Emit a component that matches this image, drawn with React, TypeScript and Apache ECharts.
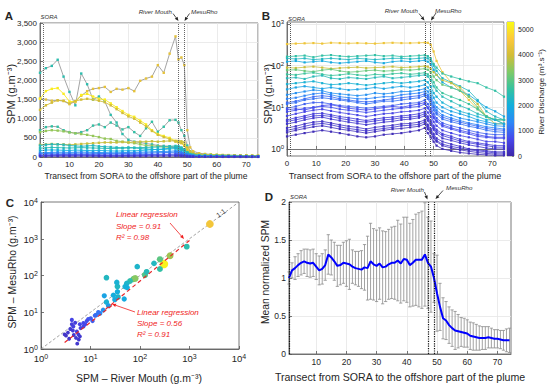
import React, { useEffect, useRef } from 'react';
import * as echarts from 'echarts';

// ---------- DATA ----------
// Panel A: transect positions and SPM profiles (g.m-3)
const XA = [0,2,4,6,8,10,12,14,16,18,20,22,24,26,28,30,32,34,36,38,40,42,44,46,47,48,49,50,51,52,54,56,58,60,62,64,66,68,70,72,74];
const A_LINES = [
  [1530,1500,1470,1480,1460,1380,1450,1600,1720,1780,1800,1830,1700,1780,1760,1800,1720,1990,2050,2100,2400,2200,2700,3150,2550,2600,2400,700,250,150,100,80,70,60,55,50,45,40,35,30,30],
  [2200,2320,2380,2540,2100,1700,1350,2180,1900,1500,1580,1450,1100,900,600,450,400,380,350,330,300,290,280,260,250,230,200,120,80,60,50,45,40,38,35,32,30,28,25,22,20],
  [700,780,800,790,700,650,620,650,700,820,850,780,900,820,720,780,650,550,750,920,660,790,960,970,900,700,550,300,150,100,70,60,55,50,45,42,40,38,35,32,30],
  [1520,1720,1780,1800,1650,1450,1450,1620,1650,1580,1520,1500,1400,1300,1200,1100,1050,950,850,700,600,550,500,420,400,380,300,200,120,90,70,60,55,50,45,42,40,38,35,32,30],
  [1230,1350,1420,1480,1470,1400,1460,1500,1520,1500,1470,1430,1350,1250,1150,1060,1000,900,800,680,580,520,470,400,380,360,290,180,110,80,65,55,50,46,42,40,37,35,32,30,28],
  [650,680,700,690,670,640,620,600,580,550,520,480,470,420,400,380,360,330,300,290,280,260,250,240,220,200,180,120,80,60,50,45,40,38,35,33,30,28,26,25,24],
  [320,330,340,330,330,320,330,340,350,360,370,380,380,380,390,380,390,400,400,410,400,410,420,420,420,410,380,250,150,100,80,65,55,50,45,42,40,38,35,33,30],
  [300,320,330,330,320,300,290,280,290,300,280,270,260,250,240,250,240,220,210,200,190,200,210,220,200,180,150,100,70,50,40,35,30,28,26,24,22,20,18,16,15],
  [170,180,185,180,175,170,180,175,170,165,170,165,160,155,160,165,160,170,180,190,200,210,230,250,240,220,180,110,70,50,40,35,30,28,25,23,21,20,19,18,17],
  [230,240,250,245,240,235,240,245,240,235,230,225,220,225,230,235,240,245,250,255,260,270,280,290,280,250,200,120,80,60,45,40,35,32,30,28,26,24,22,20,19],
  [110,115,120,125,125,120,125,130,125,120,118,115,110,110,115,120,120,125,130,135,140,145,150,160,150,130,100,70,45,35,28,24,20,18,16,15,14,13,12,11,10],
  [85,90,95,100,98,95,100,102,98,95,92,90,88,86,90,94,95,98,100,105,110,115,120,125,120,105,80,55,35,28,22,19,16,15,13,12,11,10,10,9,9],
  [55,58,62,65,66,64,66,68,65,62,60,58,56,55,57,60,60,62,64,66,68,70,72,78,75,65,50,35,25,20,16,14,12,11,10,9,8,8,7,7,6],
  [35,38,40,42,43,42,44,45,43,41,40,38,37,36,38,40,40,41,43,45,46,48,50,52,50,44,34,24,17,13,11,10,9,8,7,7,6,6,5,5,5],
  [18,20,22,23,24,23,24,25,24,22,21,20,19,19,20,21,21,22,23,24,25,26,27,28,27,23,18,13,10,8,7,6,5,5,4,4,4,3,3,3,3],
];
const A_Q = [4300,2500,2600,5100,4000,3500,3900,2300,2000,2400,1500,1200,900,600,300];

// Panel B: transect positions and SPM profiles (g.m-3), log scale
const XB = [0,3,6,9,12,15,18,21,24,27,30,33,36,39,42,45,47,48,49,50,51,53,56,59,62,65,68,71,74];
const B_LINES = [
  [330,340,345,350,340,355,350,345,350,345,340,350,355,350,350,355,360,355,320,220,130,70,40,25,15,9,6,5,5],
  [165,170,175,160,175,180,170,165,170,175,180,170,175,165,170,175,180,170,150,110,90,65,55,48,42,38,30,25,18],
  [150,145,150,140,145,150,145,140,150,145,140,145,150,150,145,150,155,150,130,100,75,50,40,32,25,15,8,6,5],
  [125,130,120,125,130,120,115,120,125,130,120,115,125,130,125,130,135,125,110,80,60,40,30,25,20,14,10,8,6],
  [90,88,92,95,90,85,88,90,92,88,90,92,95,90,92,95,98,95,85,70,60,45,38,30,18,12,6,4,4],
  [78,80,75,72,78,82,75,70,72,76,78,74,76,80,78,82,85,80,70,55,45,35,30,25,18,10,6,5,4],
  [62,60,65,68,62,58,60,64,60,58,62,60,64,66,62,65,68,62,55,40,30,22,18,15,12,9,6,5,5],
  [50,52,48,55,58,50,48,52,50,48,52,55,50,52,55,58,60,55,45,32,25,18,14,11,9,7,6,5,5],
  [36,38,40,42,38,35,36,38,36,34,36,38,40,38,40,42,45,40,32,22,18,13,10,8,7,6,5,5,4],
  [27,30,32,30,28,30,28,26,27,28,30,28,30,32,30,32,35,30,24,17,13,10,8,7,6,5,4.5,4,4],
  [20,22,24,26,25,22,21,20,19,20,22,21,22,24,24,26,28,24,19,13,10,8,6.5,5.5,5,4.5,4,3.6,3.5],
  [16,17,19,21,22,20,18,17,16,16,17,18,18,20,21,22,24,20,16,11,8.5,6.5,5.5,4.8,4.2,3.8,3.4,3.2,3],
  [13,14,16,18,19,18,16,15,14,13.5,14,15,16,17,18,19,21,18,14,10,7.5,5.8,5,4.4,3.9,3.5,3.1,2.9,2.8],
  [12,13,15,16,17,16,15,14,13,12,13,14,14,15,16,17,19,16,12,8.5,6.8,5.2,4.5,4,3.5,3.2,2.8,2.6,2.5],
  [9.5,10.5,12,13,13,12,11,10.5,10,9.5,10,10.5,11,12,12.5,13,15,12,9.5,7,5.5,4.2,3.6,3.2,2.8,2.5,2.3,2.2,2.2],
  [8.8,9.2,8.6,9.8,11,11.5,10.5,9.5,9,8.6,9.2,9.8,10.5,10,11,12,13,10,8,6,4.8,3.8,3.2,2.8,2.5,2.2,2,1.9,1.9],
  [7.8,8.5,9.5,10,10.5,10,9,8.5,8,7.5,8,8.5,9,9.5,10,10.5,12,9.5,7.5,5.5,4.5,3.5,3,2.6,2.3,2,1.9,1.8,1.8],
  [6.2,7,7.8,8.5,9,8.2,7.5,7,6.5,6,6.5,7,7.2,7.8,8,8.5,9.5,7.5,6,4.5,3.6,2.8,2.4,2.1,1.9,1.7,1.5,1.5,1.4],
  [5,5.6,6.2,7,7.2,6.6,6,5.6,5.2,4.8,5.2,5.6,5.8,6.2,6.5,7,7.8,6,4.8,3.6,2.9,2.3,2,1.7,1.5,1.4,1.3,1.2,1.2],
  [4.6,5,5.6,6.2,6.4,6,5.4,5,4.6,4.4,4.7,5,5.2,5.6,5.8,6.2,7,5.4,4.3,3.2,2.6,2.1,1.8,1.55,1.4,1.3,1.2,1.1,1.1],
  [4,4.4,5,5.5,5.8,5.2,4.8,4.4,4.1,3.8,4.1,4.4,4.6,5,5.2,5.6,6.2,4.8,3.8,2.9,2.3,1.8,1.6,1.4,1.25,1.15,1.05,1,1],
  [3.2,3.5,4,4.4,4.6,4.2,3.8,3.5,3.3,3,3.3,3.5,3.7,4,4.1,4.4,5,3.8,3,2.3,1.8,1.5,1.3,1.15,1,0.95,0.9,0.85,0.85],
  [2.8,3.1,3.5,3.9,4.1,3.8,3.4,3.1,2.9,2.7,2.9,3.1,3.3,3.6,3.7,3.9,4.5,3.4,2.7,2,1.6,1.3,1.15,1.05,0.95,0.9,0.85,0.8,0.8],
  [2.5,2.8,3.1,3.4,3.6,3.3,3,2.8,2.6,2.4,2.6,2.8,3,3.1,3.3,3.5,4,3,2.4,1.8,1.5,1.2,1.05,0.95,0.88,0.82,0.78,0.75,0.75],
  [2,2.2,2.4,2.6,2.8,2.6,2.4,2.2,2,1.9,2,2.2,2.3,2.4,2.6,2.8,3.2,2.4,1.9,1.5,1.2,1,0.9,0.82,0.78,0.74,0.72,0.7,0.7],
];
const B_Q = [4400,2600,2300,1900,3900,3100,2700,2400,2100,1800,1500,1300,1000,1100,900,700,750,600,480,450,380,300,350,220,150];

// Colour bar
const Q_MAX = 5300;
const CB_TICKS = [0,1000,2000,3000,4000,5000];

// Panel C: SPM at river mouth vs SPM at MesuRho (g.m-3), discharge (m3/s)
const C_RM = [2580,880,405,305,253,253,192,126,136,88,74,80,63,54,50,55,48,35,34,35,36,31,29,21,19,21,23,18,15.5,13,
  9,10.1,8.4,7.2,6.1,4.9,4.5,4.4,3.9,3.5,3.2,3,5.3,5.7,6.1,5.4,7.2,7.8,11,4.2,6.3,5.1,3.7,4.6,12.3,14.4,5.8,4.2];
const C_MR = [2520,610,345,205,150,275,214,103,126,174,80,83,71,61,50,47,23,50,65,36,26,22,29,87,28,19,15,11.5,9.3,8.4,
  6.5,6.8,5.8,5.1,4.7,5.2,4.1,3.2,3.5,2.8,2.3,2.5,3,2.5,2.2,1.4,4.1,4.7,5.8,4.7,3.7,2,1.9,2.4,8.1,10,1.8,6.2];
const C_Q = [4500,2500,3600,5200,2600,3000,2300,2900,2400,2200,3000,3400,2500,2200,2100,2000,1900,2300,2100,2000,2200,1900,2000,2300,1800,2100,1700,1500,1400,1300,
  800,850,700,650,600,500,550,450,400,350,300,320,500,450,400,380,600,650,900,500,550,420,350,400,1000,1100,380,600];
const ONE_TO_ONE = [[1,1],[10000,10000]];
const REG_LOWER = [[3,1.5],[30,17]];
const REG_UPPER = [[20,12],[1000,900]];

// Panel D: mean normalized SPM and standard deviation, positions 1..74
const D_MEAN = [1.00,1.10,1.13,1.17,1.20,1.22,1.20,1.19,1.20,1.15,1.10,1.12,1.17,1.31,1.27,1.22,1.16,1.17,1.20,1.19,
  1.18,1.15,1.13,1.12,1.11,1.14,1.13,1.22,1.18,1.16,1.19,1.14,1.15,1.18,1.20,1.20,1.23,1.19,1.25,1.24,
  1.17,1.20,1.24,1.24,1.24,1.31,1.20,1.15,1.00,0.80,0.62,0.47,0.44,0.38,0.34,0.31,0.30,0.29,0.28,0.27,
  0.24,0.23,0.22,0.21,0.21,0.21,0.22,0.21,0.20,0.20,0.19,0.18,0.18,0.18];
const D_STD = [0.08,0.10,0.15,0.15,0.16,0.16,0.18,0.18,0.18,0.17,0.19,0.20,0.20,0.26,0.23,0.25,0.27,0.26,0.27,0.30,
  0.33,0.22,0.22,0.23,0.25,0.30,0.42,0.50,0.47,0.47,0.47,0.48,0.46,0.46,0.47,0.48,0.53,0.52,0.55,0.56,
  0.55,0.57,0.60,0.62,0.64,0.68,0.60,0.60,0.32,0.50,0.31,0.27,0.25,0.24,0.24,0.25,0.22,0.19,0.19,0.18,
  0.18,0.18,0.17,0.16,0.15,0.15,0.14,0.13,0.12,0.12,0.12,0.13,0.15,0.16];

const MARK_X = [1, 47, 49];

// ---------- STYLE HELPERS ----------
const FONT = '"Liberation Sans", Arial, Helvetica, sans-serif';
const PARULA = ['#3e26a8','#4747eb','#2d87f7','#13aedd','#35c2a0','#7eca68','#d1bd38','#fcc83a','#f9fb15'];
const hex = (h: string) => [parseInt(h.slice(1,3),16), parseInt(h.slice(3,5),16), parseInt(h.slice(5,7),16)];
function parula(q: number) {
  const t = Math.max(0, Math.min(1, q / Q_MAX)) * (PARULA.length - 1);
  const i = Math.min(Math.floor(t), PARULA.length - 2);
  const f = t - i;
  const a = hex(PARULA[i]), b = hex(PARULA[i + 1]);
  const c = a.map((v, k) => Math.round(v + (b[k] - v) * f));
  return `rgb(${c[0]},${c[1]},${c[2]})`;
}
const AX = '#555';
const TXT = '#262626';
const axisLine = { show: true, lineStyle: { color: AX, width: 0.8 } };
const axisTick = { show: true, inside: true, length: 3, lineStyle: { color: AX, width: 0.8 } };
const splitLine = { show: true, lineStyle: { color: '#e6e6e6', width: 0.8 } };
const label = (fontSize: number, extra: any = {}) => ({ fontSize, color: TXT, fontFamily: FONT, margin: 3, ...extra });
const supRich = (size: number) => ({
  b: { fontSize: size, fontFamily: FONT, color: TXT, verticalAlign: 'bottom', lineHeight: size + 1, padding: [4, 0, 0, 0] },
  s: { fontSize: Math.round(size * 0.7), fontFamily: FONT, color: TXT, verticalAlign: 'top', lineHeight: Math.round(size * 0.8) },
});
const vlines = (color: string, width: number) => ({
  silent: true, symbol: ['none', 'none'], label: { show: false },
  lineStyle: { type: 'dotted', color, width },
  emphasis: { disabled: true },
  data: MARK_X.map((x) => ({ xAxis: x })),
});

function txt(text: string, x: number, y: number, o: any = {}) {
  return {
    type: 'text', x, y, rotation: o.rot || 0, z: 100,
    style: {
      text, fill: o.color || TXT, fontSize: o.size || 9, fontFamily: FONT,
      fontStyle: o.italic ? 'italic' : 'normal', fontWeight: o.bold ? 'bold' : 'normal',
      align: o.align || 'center', verticalAlign: 'middle',
      textAlign: o.align || 'center', textVerticalAlign: 'middle',
    },
  };
}
function arrow(x1: number, y1: number, x2: number, y2: number, color: string) {
  const a = Math.atan2(y2 - y1, x2 - x1);
  const L = 4, W = 1.7;
  const bx = x2 - L * Math.cos(a), by = y2 - L * Math.sin(a);
  return {
    type: 'group', z: 100,
    children: [
      { type: 'line', shape: { x1, y1, x2: bx, y2: by }, style: { stroke: color, lineWidth: 0.8 } },
      { type: 'polygon', shape: { points: [[x2, y2], [bx + W * Math.sin(a), by - W * Math.cos(a)], [bx - W * Math.sin(a), by + W * Math.cos(a)]] }, style: { fill: color } },
    ],
  };
}

export default function App() {
  const ref = useRef<HTMLDivElement>(null);
  useEffect(() => {
    if (!ref.current) return;
    const chart = echarts.init(ref.current, null, { renderer: 'svg' });
    const GRAY_LINES = new Set([0, 1, 2]);

    const series: any[] = [];
    // Panel A
    A_LINES.forEach((vals, i) => {
      const c = parula(A_Q[i]);
      series.push({
        type: 'line', xAxisIndex: 0, yAxisIndex: 0, silent: true,
        data: XA.map((x, j) => [x, vals[j]]),
        symbol: 'rect', symbolSize: 2.4, showSymbol: true,
        lineStyle: { width: 0.9, color: GRAY_LINES.has(i) ? '#9a9a9a' : c },
        itemStyle: { color: c }, z: 2,
        markLine: i === 0 ? vlines('#666', 1) : undefined,
      });
    });
    // Panel B
    B_LINES.forEach((vals, i) => {
      const c = parula(B_Q[i]);
      series.push({
        type: 'line', xAxisIndex: 1, yAxisIndex: 1, silent: true,
        data: XB.map((x, j) => [x, Math.log10(vals[j])]),
        symbol: 'rect', symbolSize: 2.2, showSymbol: true,
        lineStyle: { width: 0.8, color: c },
        itemStyle: { color: c }, z: 2,
        markLine: i === 0 ? vlines('#555', 1) : undefined,
      });
    });
    // Colour bar
    series.push({
      type: 'bar', xAxisIndex: 2, yAxisIndex: 2, silent: true, barWidth: '100%',
      data: [Q_MAX],
      itemStyle: {
        color: {
          type: 'linear', x: 0, y: 1, x2: 0, y2: 0,
          colorStops: PARULA.map((c, k) => ({ offset: k / (PARULA.length - 1), color: c })),
        },
      },
    });
    // Panel C
    series.push({
      type: 'line', xAxisIndex: 3, yAxisIndex: 3, silent: true, data: ONE_TO_ONE, symbol: 'none',
      lineStyle: { color: '#8c8c8c', width: 0.8, type: [3, 2] }, z: 1,
    });
    series.push({
      type: 'scatter', xAxisIndex: 3, yAxisIndex: 3, silent: true,
      data: C_RM.map((x, i) => [x, C_MR[i], C_Q[i]]),
      symbolSize: (v: number[]) => 3.5 + 5 * v[2] / Q_MAX,
      itemStyle: { color: (p: any) => parula(p.data[2]), opacity: 1 }, z: 3,
    });
    [REG_LOWER, REG_UPPER].forEach((d) => series.push({
      type: 'line', xAxisIndex: 3, yAxisIndex: 3, silent: true, data: d, symbol: 'none',
      lineStyle: { color: '#e8262a', width: 1.2, type: [4, 3] }, z: 4,
    }));
    // Panel D
    series.push({
      type: 'custom', xAxisIndex: 4, yAxisIndex: 4, silent: true,
      data: D_MEAN.map((m, i) => [i + 1, m, D_STD[i]]),
      encode: { x: 0, y: 1 },
      renderItem: (params: any, api: any) => {
        const x = api.value(0), m = api.value(1), s = api.value(2);
        const p1 = api.coord([x, m + s]);
        const p2 = api.coord([x, m - s]);
        const cw = 1.6;
        const st = { stroke: '#8c8c8c', lineWidth: 0.8 };
        return {
          type: 'group', children: [
            { type: 'line', shape: { x1: p1[0], y1: p1[1], x2: p2[0], y2: p2[1] }, style: st },
            { type: 'line', shape: { x1: p1[0] - cw, y1: p1[1], x2: p1[0] + cw, y2: p1[1] }, style: st },
            { type: 'line', shape: { x1: p2[0] - cw, y1: p2[1], x2: p2[0] + cw, y2: p2[1] }, style: st },
          ],
        };
      },
      z: 2,
    });
    series.push({
      type: 'line', xAxisIndex: 4, yAxisIndex: 4, silent: true,
      data: D_MEAN.map((m, i) => [i + 1, m]), symbol: 'none',
      lineStyle: { color: '#0000ff', width: 2 }, z: 4,
      markLine: vlines('#111', 1.2),
    });

    const decadeFmt = (v: number) => `{b|10}{s|${Math.round(v)}}`;
    const logFmt = (v: number) => `{b|10}{s|${Math.round(Math.log10(v))}}`;
    const TEN = [10, 20, 30, 40, 50, 60, 70];

    const option: any = {
      animation: false,
      textStyle: { fontFamily: FONT },
      grid: [
        { left: 40, top: 23, width: 218, height: 134, show: true, borderColor: AX, borderWidth: 0.8 },
        { left: 287, top: 22, width: 217, height: 134, show: true, borderColor: AX, borderWidth: 0.8 },
        { left: 507, top: 22, width: 7, height: 134, show: true, borderColor: AX, borderWidth: 0.6 },
        { left: 41, top: 202, width: 198, height: 147, show: true, borderColor: AX, borderWidth: 0.8 },
        { left: 289, top: 202, width: 222, height: 152, show: true, borderColor: AX, borderWidth: 0.8 },
      ],
      xAxis: [
        { gridIndex: 0, type: 'value', min: 0, max: 74, interval: 10, axisLine, axisTick, splitLine, axisLabel: label(8, { showMaxLabel: false }) },
        { gridIndex: 1, type: 'value', min: 0, max: 74, interval: 10, axisLine, axisTick, splitLine, axisLabel: label(8, { showMaxLabel: false }) },
        { gridIndex: 2, type: 'category', data: ['q'], show: false },
        { gridIndex: 3, type: 'log', logBase: 10, min: 1, max: 10000, axisLine, axisTick, splitLine: { show: false },
          axisLabel: { formatter: logFmt, rich: supRich(9.5), margin: 4 } },
        { gridIndex: 4, type: 'value', min: 1, max: 74.5, axisLine, splitLine,
          axisTick: { ...axisTick, customValues: TEN },
          axisLabel: label(8.5, { customValues: TEN }) },
      ],
      yAxis: [
        { gridIndex: 0, type: 'value', min: 0, max: 3500, interval: 500, axisLine, axisTick, splitLine, axisLabel: label(8) },
        { gridIndex: 1, type: 'value', min: -0.17, max: 3.05, axisLine, splitLine,
          axisTick: { ...axisTick, customValues: [0, 1, 2, 3] },
          axisLabel: { customValues: [0, 1, 2, 3], formatter: decadeFmt, rich: supRich(8.5), margin: 3 } },
        { gridIndex: 2, type: 'value', min: 0, max: Q_MAX, position: 'right', splitLine: { show: false },
          axisLine: { show: false },
          axisTick: { show: true, inside: true, length: 2, lineStyle: { color: AX, width: 0.6 }, customValues: CB_TICKS },
          axisLabel: label(7, { customValues: CB_TICKS, margin: 4, formatter: (v: number) => String(v) }) },
        { gridIndex: 3, type: 'log', logBase: 10, min: 1, max: 10000, axisLine, axisTick, splitLine: { show: false },
          axisLabel: { formatter: logFmt, rich: supRich(9.5), margin: 3 } },
        { gridIndex: 4, type: 'value', min: 0, max: 2, interval: 0.5, axisLine, axisTick, splitLine, axisLabel: label(8.5) },
      ],
      series,
      graphic: {
        elements: [
          // panel letters
          txt('A', 9, 16, { bold: true, size: 11.5 }),
          txt('B', 266, 16, { bold: true, size: 11.5 }),
          txt('C', 10, 203, { bold: true, size: 11.5 }),
          txt('D', 269, 197, { bold: true, size: 11.5 }),
          // axis titles
          txt('SPM (g.m⁻³)', 11, 94, { rot: Math.PI / 2, size: 11 }),
          txt('SPM (g.m⁻³)', 268, 94, { rot: Math.PI / 2, size: 11 }),
          txt('Transect from SORA to the offshore part of the plume', 146, 176, { size: 8.6 }),
          txt('Transect from SORA to the offshore part of the plume', 395, 176, { size: 9 }),
          txt('River Discharge (m³.s⁻¹)', 541, 92, { rot: Math.PI / 2, size: 8 }),
          txt('SPM – MesuRho (g.m⁻³)', 12, 272, { rot: Math.PI / 2, size: 10.4 }),
          txt('SPM – River Mouth (g.m⁻³)', 139, 378, { size: 10.5 }),
          txt('Mean normalized SPM', 265, 272, { rot: Math.PI / 2, size: 10.3 }),
          txt('Transect from SORA to the offshore part of the plume', 400, 377, { size: 10.6 }),
          // A annotations
          txt('SORA', 40.5, 16.5, { italic: true, size: 6, align: 'left', color: '#333' }),
          txt('River Mouth', 172, 11, { italic: true, size: 6.2, align: 'right', color: '#333' }),
          txt('MesuRho', 191, 11, { italic: true, size: 6.2, align: 'left', color: '#333' }),
          arrow(173, 13.5, 178.5, 21, '#222'),
          arrow(189.5, 13.5, 184.5, 21, '#222'),
          // B annotations
          txt('SORA', 288, 19, { italic: true, size: 6, align: 'left', color: '#333' }),
          txt('River Mouth', 418, 10.5, { italic: true, size: 6.2, align: 'right', color: '#333' }),
          txt('MesuRho', 435, 10, { italic: true, size: 6.2, align: 'left', color: '#333' }),
          arrow(419, 13.5, 424.5, 20.5, '#222'),
          arrow(436, 13, 431, 20.5, '#222'),
          // D annotations
          txt('SORA', 290, 196.5, { italic: true, size: 6, align: 'left', color: '#333' }),
          txt('River Mouth', 424, 189, { italic: true, size: 6.2, align: 'right', color: '#333' }),
          txt('MesuRho', 446, 187, { italic: true, size: 6.2, align: 'left', color: '#333' }),
          arrow(424.5, 192, 427.5, 199.5, '#222'),
          arrow(443, 190.5, 435.5, 199, '#222'),
          // C annotations
          txt('Linear regression', 116, 214, { italic: true, size: 8, align: 'left', color: '#f01e1e' }),
          txt('Slope = 0.91', 116, 226, { italic: true, size: 8, align: 'left', color: '#f01e1e' }),
          txt('R² = 0.98', 116, 237.5, { italic: true, size: 8, align: 'left', color: '#f01e1e' }),
          arrow(170, 223, 184, 239, '#f01e1e'),
          txt('Linear regression', 137, 312, { italic: true, size: 8, align: 'left', color: '#f01e1e' }),
          txt('Slope = 0.56', 137, 323, { italic: true, size: 8, align: 'left', color: '#f01e1e' }),
          txt('R² = 0.91', 137, 334.5, { italic: true, size: 8, align: 'left', color: '#f01e1e' }),
          arrow(135, 312, 112, 304, '#f01e1e'),
          txt('1:1', 221, 213, { rot: 0.64, size: 7, color: '#333' }),
        ],
      },
    };
    chart.setOption(option);
    return () => chart.dispose();
  }, []);
  return <div ref={ref} style={{ position: 'fixed', left: 0, top: 0, width: 550, height: 390, background: '#fff' }} />;
}
